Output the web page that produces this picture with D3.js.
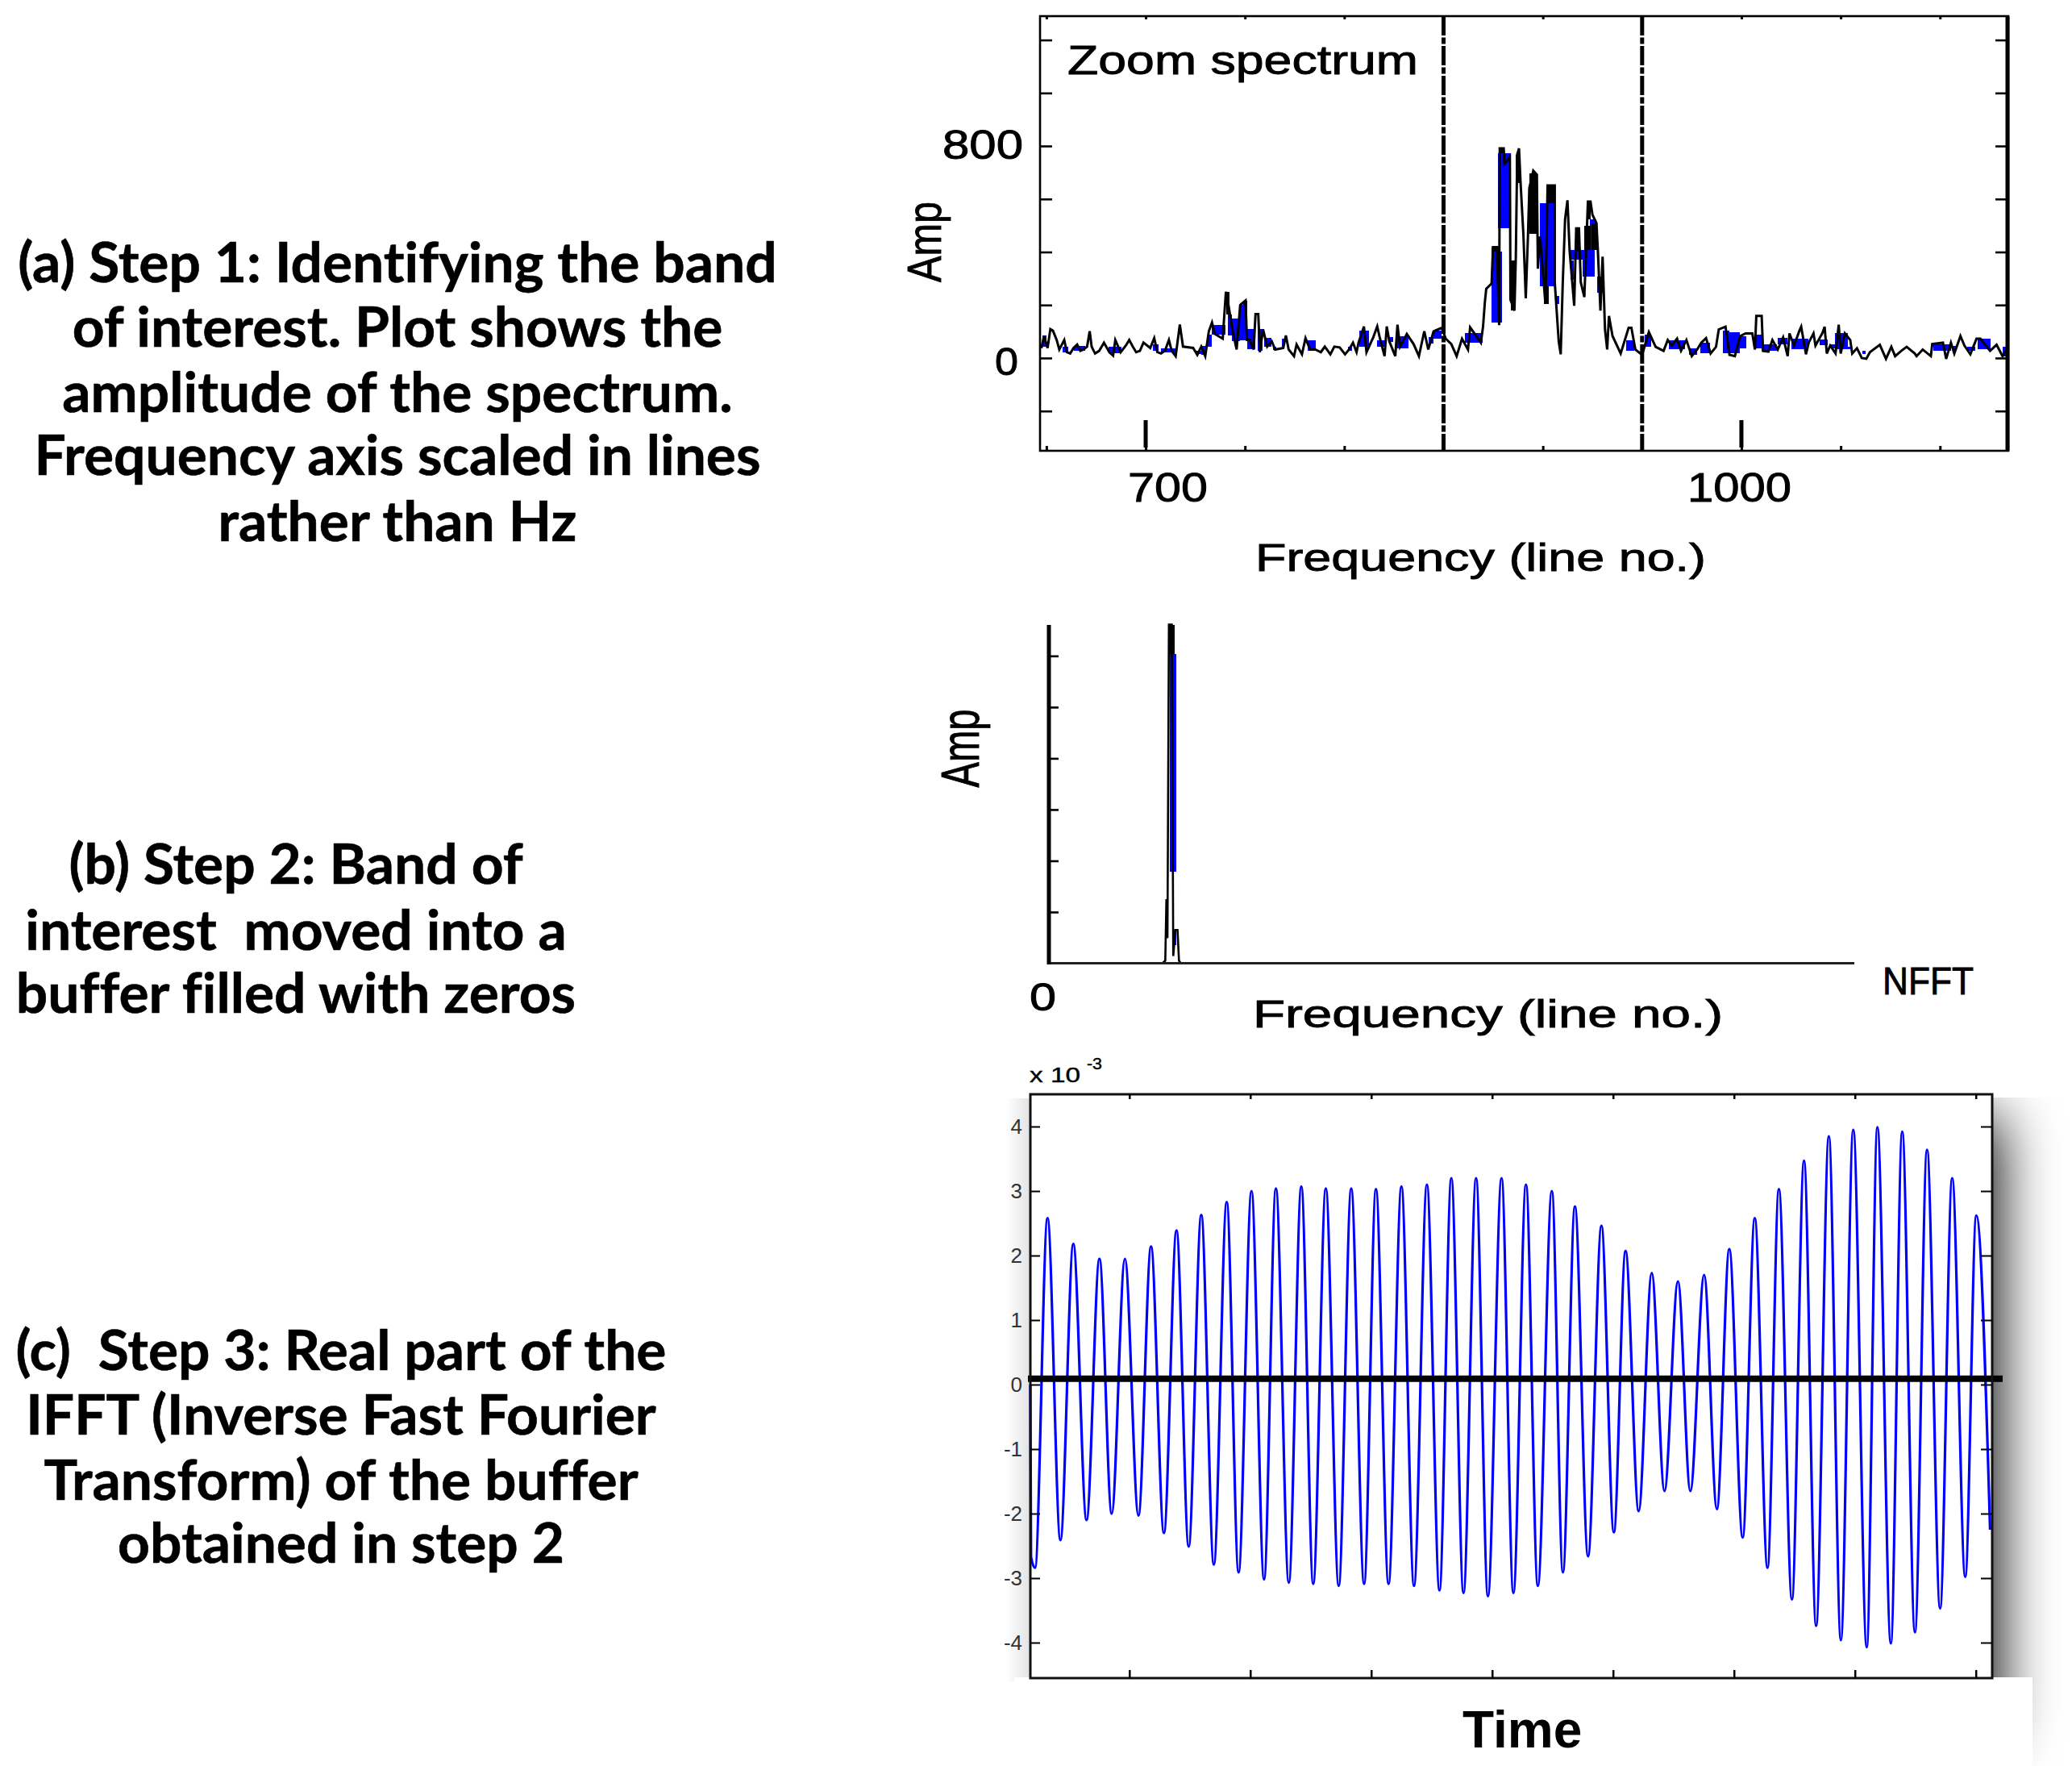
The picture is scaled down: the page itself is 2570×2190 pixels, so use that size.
<!DOCTYPE html>
<html>
<head>
<meta charset="utf-8">
<script src="https://cdn.jsdelivr.net/npm/d3@7"></script>
<style>
  html, body { margin: 0; padding: 0; background: #fff; }
  svg { display: block; }
  text { font-family: "Liberation Sans", Arial, sans-serif; fill: #000; }
  .caption { font-family: Lato, sans-serif; font-weight: 700; font-size: 69.5px; text-anchor: middle; font-variant-ligatures: none; stroke: #000; stroke-width: 0.6px; }
  .stretched { stroke: #000; stroke-width: 0.9px; }
</style>
</head>
<body>
<svg id="chart" width="2570" height="2190"></svg>
<script>
const captionA = ['(a) Step 1: Identifying the band', 'of interest. Plot shows the', 'amplitude of the spectrum.', 'Frequency axis scaled in lines', 'rather than Hz'];
const captionB = ['(b) Step 2: Band of', 'interest  moved into a', 'buffer filled with zeros'];
const captionC = ['(c)  Step 3: Real part of the', 'IFFT (Inverse Fast Fourier', 'Transform) of the buffer', 'obtained in step 2'];

// panel (a): spectrum trace, line number then amplitude
const specLine = [647.5, 648.8, 650.6, 652, 653.3, 655.2, 656.5, 659, 660.3, 662, 663.7, 665.5, 667.1, 668.7, 670.5, 671.8, 672.8, 674.5, 676.6, 679, 681.7, 683.6, 684.7, 687.4, 690.1, 691.7, 693.5, 695.2, 697.1, 698.9, 702.3, 704.3, 705.9, 707.7, 709.7, 711.7, 713.1, 715.1, 717.2, 718.8, 723.9, 726, 728, 730, 731.8, 733.4, 734.8, 738.8, 740.4, 741.8, 743.5, 745.8, 747.6, 750.3, 751,
  752.4, 754.4, 755.3, 756.7, 757.5, 759.1, 761.2, 763.5, 765.2, 769.3, 770.6, 772, 774.7, 776, 778.7, 780.5, 782.8, 785.5, 788.2, 790.2, 793, 795, 797.7, 800.4, 802.4, 804.4, 806.2, 807.2, 809.9, 811.2, 814.6, 816.6, 818, 820.3, 821.4, 822.7, 825.7, 826.8, 828.1, 831.5, 834.9, 837.6, 840.3, 842.3, 845, 849.1, 851.1,
  853.9, 856.6, 859.3, 862.3, 863.4, 868.8, 869.9, 870.8, 871.5, 874.2, 874.9, 876.9, 878, 878.3, 880.3, 880.7, 883.4, 883.7, 885.7, 886.4, 887.1, 888, 888.8, 890.2, 891.4, 892.5, 893.2, 895.2, 897, 897.5, 898.6, 901.3, 902.4, 906, 906, 908, 909, 910, 911.2, 912.4, 913.5, 915.8, 916.8, 918.2, 919.1, 920.9, 922.7, 924, 925, 927, 927.7, 929, 930.1, 931.3, 932.4, 933.3, 935.1, 939.2, 943.2, 944.6, 946.6, 950, 953.4,
  956.8, 960.8, 962.9, 964.9, 967.6, 969.6, 972.3, 975, 977.7, 979.8, 982.2, 984.5, 987.2, 988.6, 992, 994, 996.7, 999.4, 1002.1, 1005.5, 1006.8, 1007.5, 1010.2, 1010.9, 1013.6, 1015.6, 1018.3, 1021, 1023.3, 1024.2, 1026.5, 1029.2, 1030.1, 1032.5, 1033.9, 1036.3, 1037.3, 1040.7,
  1041.9, 1043, 1044.7, 1047.4, 1049, 1050, 1052.1, 1054.8, 1055.8, 1058.2, 1060.6, 1062.9, 1064.7, 1069.7, 1072.8, 1075.5, 1077.4, 1080.5, 1083.2, 1087.3, 1088.2, 1091.3, 1095.4, 1096.1, 1101.5, 1103.1, 1105.5, 1107.2, 1110.3, 1112.3, 1115.3, 1118.4, 1120.4, 1125.2, 1128.5, 1131.5, 1134];
const specAmp = [37, 83, 38, 109, 103, 68, 32, 68, 22, 17, 38, 51, 27, 32, 43, 101, 43, 17, 27, 58, 22, 9, 68, 22, 48, 68, 43, 22, 27, 58, 38, 75, 22, 17, 27, 68, 27, 7, 126, 43, 38, 12, 43, 7, 101, 134, 91, 73, 250, 195, 114, 32, 200, 217, 68,
  68, 32, 166, 166, 22, 108, 43, 63, 32, 38, 85, 32, 7, 51, 14, 75, 32, 32, 22, 43, 14, 43, 40, 14, 32, 58, 22, 58, 119, 22, 78, 119, 73, 7, 119, 63, 7, 126, 43, 91, 53, 7, 101, 32, 101, 114, 73,
  53, 7, 73, 32, 116, 58, 119, 210, 261, 281, 418, 418, 124, 791, 791, 732, 758, 220, 179, 382, 768, 791, 659, 468, 225, 458, 641, 707, 692, 337, 458, 205, 651, 651, 286, 63, 14, 276, 524, 595, 403, 197, 489, 489, 286, 230, 590, 590, 540, 509, 408, 179, 382, 108, 32, 159, 83, 17, 114, 114, 32, 12, 98,
  42, 27, 68, 47, 73, 27, 68, 7, 32, 58, 75, 17, 42, 108, 118, 12, 7, 83, 93, 93, 32, 159, 159, 27, 24, 68, 32, 78, 7, 93, 47, 103, 118, 14, 58, 93, 47, 93,
  118, 17, 47, 17, 126, 17, 93, 68, 17, 37, 0, -3, 22, 50, -3, 42, 7, 27, 42, 17, 7, 32, 7, 53, 58, -3, 58, 17, 83, 47, 14, 73, 73, 27, 50, 7, 42];
// [first line, last line, top amp, bottom amp]
const specBlue = [[647.9, 650.2, 85, 43], [658.3, 661, 43, 22], [663.7, 669.5, 45, 27], [681.3, 688, 43, 17], [703.6, 706.3, 53, 27], [707.7, 715.1, 35, 22], [725.3, 728, 27, 15], [728, 730.4, 45, 12], [731.4, 733.4, 88, 43], [733.4, 740.2, 124, 88], [741.2, 743.5, 164, 85], [743.5, 747.6, 149, 63], [746.9, 751, 200, 68],
  [751, 755, 108, 32], [756.4, 758.9, 108, 27], [759.8, 763.2, 75, 43], [764.3, 765.9, 43, 29], [768.6, 770, 73, 43], [781.4, 785.5, 68, 27], [801.7, 803.8, 43, 27], [807.6, 812.6, 103, 43], [816.6, 820.7, 68, 43], [822, 824.7, 78, 61], [826.8, 832.2, 83, 37], [842.3, 845, 78, 55], [845, 849.1, 103, 73],
  [860.7, 869.5, 93, 58], [874.2, 879.6, 403, 134], [877.6, 884.1, 773, 489], [898.6, 906, 585, 271], [906.4, 908.3, 235, 205], [914.1, 915.5, 367, 296], [914.1, 920.2, 408, 372], [920.2, 926.3, 408, 306], [923.6, 927, 524, 408], [927.4, 930.8, 306, 245], [941.9, 945.9, 68, 27], [951.3, 954.7, 88, 42],
  [963.5, 971.7, 68, 32], [973.7, 977.7, 37, 12], [979.5, 984.1, 58, 17], [990.6, 994, 103, 17], [994, 999.4, 98, 17], [999.4, 1002.5, 83, 37], [1007.5, 1010.2, 88, 37], [1010.2, 1017.7, 53, 27], [1018.3, 1023.1, 75, 53], [1025.1, 1033.9, 73, 32], [1039.3, 1043.4, 70, 50],
  [1044.7, 1047.4, 53, 37], [1047.1, 1053.5, 93, 32], [1053.7, 1055.8, 42, 32], [1060.9, 1062.5, 27, 14], [1096.7, 1105.5, 53, 27], [1106.9, 1108.3, 47, 27], [1113.7, 1117.7, 44, 27], [1119, 1125.6, 73, 32], [1131.5, 1134, 42, 7]];
const specBlack = [[740.4, 742.2, 250, 164], [749, 751, 217, 200], [874.2, 877, 418, 403], [878, 880.7, 791, 773], [884, 886.1, 367, 179], [886.4, 888.4, 768, 661], [893.2, 897, 697, 468], [900.6, 902.9, 271, 205], [902, 906.3, 651, 585], [916.2, 918.5, 489, 403], [920.9, 924, 499, 408], [922, 924, 590, 524], [924.3, 927.2, 509, 408]];
const specBandEdges = [850, 950];
const specXTicks = [650, 700, 750, 800, 850, 900, 950, 1000, 1050, 1100];
const specYTicks = [-200, 0, 200, 400, 600, 800, 1000, 1200];

// panel (b): the same band moved into the zero buffer
const bufferBin = [141, 144.5, 145.9, 147.2, 149, 152.6, 154.4, 157, 159.7, 161.5, 163.7];
const bufferAmp = [0, 0.05, 1.25, 0.49, 6.61, 6.61, 0.14, 0.65, 0.65, 0.05, 0];
const bufferBlue = [[150.3, 158, 6.03, 1.79], [154.5, 158, 0.6, 0.35]];
const bufferBlack = [[148.5, 156, 6.61, 6.03]];
const bufferYTicks = [1, 2, 3, 4, 5, 6];

// panel (c): extremes of the real part of the IFFT
const waveTime = [27.2, 28, 33, 48.5, 64.5, 80.5, 96.9, 112.9, 128.1, 144.5, 161.3, 176.9, 192.9, 208.5, 223.6, 239.2, 254.8, 270.8, 285.5, 301.5, 317.1, 331.8, 347.8, 363.3, 378.1, 393.7, 409.7, 425.2, 441.2, 455.9, 471.5, 487.5, 503.1, 519.1, 534.7, 549.4, 564.5, 580.1, 594.8, 611.7, 626.4, 642, 656.7,
  674.1, 687.8, 702.7, 719, 735.6, 751, 765.5, 781.8, 798, 813.8, 830.5, 845.9, 863, 878.8, 894.2, 910.8, 925.8, 941.6, 955.7, 971.9, 986.9, 1001.9, 1017.7, 1032.6, 1048, 1064.7, 1077.9, 1094.6, 1108.7, 1124.5, 1139.5, 1155.7, 1170.7, 1186.9, 1200.6, 1217.7];
const waveValue = [0, -2.67, -2.84, 2.58, -2.41, 2.18, -2.1, 1.95, -2.0, 1.95, -2.03, 2.14, -2.3, 2.39, -2.51, 2.63, -2.79, 2.83, -2.91, 3.0, -3.02, 3.04, -3.07, 3.07, -3.09, 3.04, -3.12, 3.04, -3.09, 3.03, -3.09, 3.07, -3.12, 3.1, -3.19, 3.2, -3.23, 3.2, -3.28, 3.2, -3.23, 3.1, -3.12,
  3.0, -2.91, 2.76, -2.66, 2.46, -2.29, 2.07, -1.96, 1.73, -1.65, 1.6, -1.65, 1.7, -1.93, 2.1, -2.37, 2.58, -2.84, 3.03, -3.33, 3.47, -3.74, 3.85, -3.96, 3.95, -4.07, 3.99, -4.01, 3.92, -3.84, 3.64, -3.47, 3.2, -2.98, 2.62, -2.25];
const waveBaseline = 0.09;
const waveTimeTicks = [150, 300, 450, 600, 750, 900, 1050, 1200];
const waveYTicks = [-4, -3, -2, -1, 0, 1, 2, 3, 4];

const svg = d3.select('#chart');
const defs = svg.append('defs');
const blur = defs.append('filter').attr('id', 'soft')
  .attr('filterUnits', 'userSpaceOnUse')
  .attr('x', 2000).attr('y', 1200).attr('width', 570).attr('height', 990);
blur.append('feGaussianBlur').attr('stdDeviation', 36);

// stretched labels: the reference is a rescaled bitmap, so glyphs get pulled to a width
function label(x, y, str, size, width, anchor = 'start') {
  return svg.append('text')
    .attr('class', 'stretched')
    .attr('x', x).attr('y', y)
    .attr('font-size', size)
    .attr('text-anchor', anchor)
    .attr('textLength', width)
    .attr('lengthAdjust', 'spacingAndGlyphs')
    .text(str);
}

function vLabel(x, y, str, size, width) {
  return svg.append('text')
    .attr('class', 'stretched')
    .attr('transform', `translate(${x},${y}) rotate(-90)`)
    .attr('font-size', size)
    .attr('text-anchor', 'middle')
    .attr('textLength', width)
    .attr('lengthAdjust', 'spacingAndGlyphs')
    .text(str);
}

function caption(lines, cx, ys) {
  svg.selectAll(null)
    .data(lines)
    .join('text')
    .attr('class', 'caption')
    .style('white-space', 'pre')
    .attr('x', cx)
    .attr('y', (d, i) => ys[i])
    .text(d => d);
}

function bands(g, data, x, y, color) {
  g.selectAll(null)
    .data(data)
    .join('rect')
    .attr('x', d => x(d[0]))
    .attr('width', d => x(d[1]) - x(d[0]))
    .attr('y', d => y(d[2]))
    .attr('height', d => y(d[3]) - y(d[2]))
    .attr('fill', color)
    .attr('shape-rendering', 'crispEdges');
}

function styleAxis(g, width) {
  g.select('.domain').remove();
  g.selectAll('.tick line').attr('stroke', '#000').attr('stroke-width', width);
  g.selectAll('.tick text').remove();
}

// ---- panel (c) background goes first, its white patches must stay under the labels
const gShadow = svg.append('g');
gShadow.append('rect')
  .attr('x', 2200).attr('y', 1385).attr('width', 278).attr('height', 770)
  .attr('fill', '#000').attr('filter', 'url(#soft)');
const leftFade = defs.append('linearGradient').attr('id', 'leftFade');
leftFade.append('stop').attr('offset', 0).attr('stop-color', '#fff');
leftFade.append('stop').attr('offset', 1).attr('stop-color', '#e2e2e2');
gShadow.append('rect')
  .attr('x', 1248).attr('y', 1362).attr('width', 30).attr('height', 724)
  .attr('fill', 'url(#leftFade)');
gShadow.append('rect')
  .attr('x', 2000).attr('y', 1200).attr('width', 570).attr('height', 161)
  .attr('fill', '#fff');
gShadow.append('rect')
  .attr('x', 1278).attr('y', 1357).attr('width', 1193).attr('height', 724)
  .attr('fill', '#fff');
gShadow.append('rect')
  .attr('x', 1258).attr('y', 2080).attr('width', 1263).attr('height', 110)
  .attr('fill', '#fff');

caption(captionA, 493, [350, 430, 511, 589, 671]);
caption(captionB, 367, [1096, 1178, 1256]);
caption(captionC, 423, [1699, 1779, 1860, 1938]);

// ---- panel (a)
const xA = d3.scaleLinear().domain([646.8, 1134.4]).range([1290, 2491]);
const yA = d3.scaleLinear().domain([-350, 1290]).range([559, 20]);
const gA = svg.append('g');

bands(gA, specBlue, xA, yA, '#0000ff');
gA.append('path')
  .attr('d', d3.line().x(d => xA(d[0])).y(d => yA(d[1]))(d3.zip(specLine, specAmp)))
  .attr('fill', 'none')
  .attr('stroke', '#000')
  .attr('stroke-width', 3);
bands(gA, specBlack, xA, yA, '#000');

gA.selectAll('.edge')
  .data(specBandEdges)
  .join('line')
  .attr('class', 'edge')
  .attr('x1', d => xA(d)).attr('x2', d => xA(d))
  .attr('y1', 20).attr('y2', 559)
  .attr('stroke', '#000')
  .attr('stroke-width', 5)
  .attr('stroke-dasharray', '24,2.5,8,2.5');

gA.append('rect')
  .attr('x', 1290).attr('y', 20).attr('width', 1201).attr('height', 539)
  .attr('fill', 'none').attr('stroke', '#000').attr('stroke-width', 2.6);
gA.append('line')
  .attr('x1', 2490).attr('x2', 2490).attr('y1', 20).attr('y2', 559)
  .attr('stroke', '#000').attr('stroke-width', 5);

gA.append('g').attr('transform', 'translate(1290,0)')
  .call(d3.axisRight(yA).tickValues(specYTicks).tickSize(15).tickFormat(''))
  .call(g => styleAxis(g, 2.6));
gA.append('g').attr('transform', 'translate(2490,0)')
  .call(d3.axisLeft(yA).tickValues(specYTicks).tickSize(15).tickFormat(''))
  .call(g => styleAxis(g, 2.6));
gA.append('g').attr('transform', 'translate(0,20)')
  .call(d3.axisBottom(xA).tickValues(specXTicks).tickSize(4).tickFormat(''))
  .call(g => styleAxis(g, 3));
gA.append('g').attr('transform', 'translate(0,559)')
  .call(d3.axisTop(xA).tickValues(specXTicks).tickSize(6).tickFormat(''))
  .call(g => styleAxis(g, 3));
gA.selectAll('.major')
  .data([700, 1000])
  .join('line')
  .attr('class', 'major')
  .attr('x1', d => xA(d)).attr('x2', d => xA(d))
  .attr('y1', 521).attr('y2', 555)
  .attr('stroke', '#000').attr('stroke-width', 5);

label(1324, 92, 'Zoom spectrum', 50, 435);
label(1169, 197, '800', 50, 100);
label(1234, 465, '0', 48, 29);
label(1399, 622, '700', 50, 99);
label(2093, 622, '1000', 50, 129);
label(1557, 708, 'Frequency (line no.)', 49, 559);
vLabel(1167, 300, 'Amp', 60, 100);

// ---- panel (b)
const xB = d3.scaleLinear().domain([0, 1000]).range([1301, 2300]);
const yB = d3.scaleLinear().domain([0, 6.62]).range([1194.5, 774]);
const gB = svg.append('g');

bands(gB, bufferBlue, xB, yB, '#0000ff');
gB.append('path')
  .attr('d', d3.line().x(d => xB(d[0])).y(d => yB(d[1]))(d3.zip(bufferBin, bufferAmp)))
  .attr('fill', 'none')
  .attr('stroke', '#000')
  .attr('stroke-width', 2.6);
bands(gB, bufferBlack, xB, yB, '#000');

gB.append('line').attr('x1', 1301).attr('x2', 2300).attr('y1', 1194.5).attr('y2', 1194.5)
  .attr('stroke', '#222').attr('stroke-width', 3);
gB.append('line').attr('x1', 1301).attr('x2', 1301).attr('y1', 775).attr('y2', 1196)
  .attr('stroke', '#000').attr('stroke-width', 5);
gB.append('g').attr('transform', 'translate(1301,0)')
  .call(d3.axisRight(yB).tickValues(bufferYTicks).tickSize(12).tickFormat(''))
  .call(g => styleAxis(g, 2.6));

label(1277, 1253, '0', 48, 33);
label(1554, 1274, 'Frequency (line no.)', 48, 583);
label(2335, 1233, 'NFFT', 49, 113);
vLabel(1214, 928, 'Amp', 66, 97);

// ---- panel (c)
const xC = d3.scaleLinear().domain([27.2, 1220.3]).range([1278, 2471]);
const yC = d3.scaleLinear().domain([-4.55, 4.5]).range([2081, 1357]);
const gC = svg.append('g');

gC.append('path')
  .attr('d', d3.line().curve(d3.curveMonotoneX).x(d => xC(d[0])).y(d => yC(d[1]))(d3.zip(waveTime, waveValue)))
  .attr('fill', 'none')
  .attr('stroke', '#0000ff')
  .attr('stroke-width', 3.2);
gC.append('line')
  .attr('x1', 1275).attr('x2', 2484)
  .attr('y1', yC(waveBaseline)).attr('y2', yC(waveBaseline))
  .attr('stroke', '#000').attr('stroke-width', 8);

gC.append('rect')
  .attr('x', 1278).attr('y', 1357).attr('width', 1193).attr('height', 724)
  .attr('fill', 'none').attr('stroke', '#111').attr('stroke-width', 3);
gC.append('g').attr('transform', 'translate(1278,0)')
  .call(d3.axisRight(yC).tickValues(waveYTicks).tickSize(12).tickFormat(''))
  .call(g => styleAxis(g, 2));
gC.append('g').attr('transform', 'translate(2471,0)')
  .call(d3.axisLeft(yC).tickValues(waveYTicks).tickSize(14).tickFormat(''))
  .call(g => styleAxis(g, 2));
gC.append('g').attr('transform', 'translate(0,1357)')
  .call(d3.axisBottom(xC).tickValues(waveTimeTicks).tickSize(6).tickFormat(''))
  .call(g => styleAxis(g, 2.5));
gC.append('g').attr('transform', 'translate(0,2081)')
  .call(d3.axisTop(xC).tickValues(waveTimeTicks).tickSize(10).tickFormat(''))
  .call(g => styleAxis(g, 2.5));

svg.selectAll('.waveTick')
  .data(waveYTicks)
  .join('text')
  .attr('class', 'waveTick')
  .attr('x', 1268)
  .attr('y', d => yC(d) + 9)
  .attr('font-size', 26)
  .attr('text-anchor', 'end')
  .style('fill', '#333')
  .text(d => d);

label(1277, 1342, 'x 10', 26, 63).style('stroke-width', '0.4px');
label(1348, 1326, '-3', 20, 19).style('stroke-width', '0.4px');
svg.append('text')
  .attr('x', 1814).attr('y', 2167)
  .attr('font-size', 64)
  .attr('font-weight', 700)
  .text('Time');
</script>
</body>
</html>
